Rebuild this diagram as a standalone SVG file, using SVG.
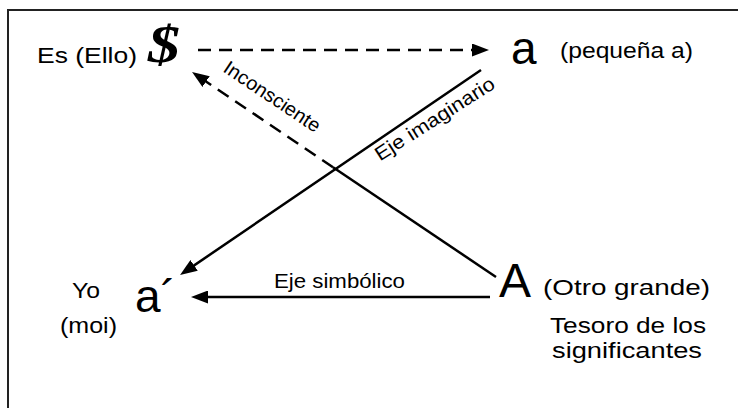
<svg xmlns="http://www.w3.org/2000/svg" width="738" height="408" viewBox="0 0 738 408">
<style>
.hand{font-family:"Liberation Sans",Arial,sans-serif;font-size:22px;fill:#000}
.lbl{font-family:"Liberation Sans",Arial,sans-serif;font-size:19.5px;fill:#000}
.big{font-family:"Liberation Sans",Arial,sans-serif;fill:#000}
.ln{stroke:#000;stroke-width:2.5;fill:none}
.dash{stroke-dasharray:13 8}
</style>
<defs>
<marker id="ah" viewBox="0 0 17 13" refX="11" refY="6.5" markerWidth="17" markerHeight="13" markerUnits="userSpaceOnUse" orient="auto">
<path d="M0,0 L17,6.5 L0,13 Z" fill="#000"/>
</marker>
</defs>
<rect x="0" y="0" width="738" height="408" fill="#fff"/>
<rect x="8" y="10" width="780" height="440" fill="none" stroke="#222" stroke-width="2"/>

<g id="connectors">
<path id="c-top" class="ln dash" d="M198,50 L483,50" marker-end="url(#ah)"/>
<path id="c-imag" class="ln" d="M481,70 L185,271.6" marker-end="url(#ah)"/>
<path id="c-simb" class="ln" d="M490,297 L197,297" marker-end="url(#ah)"/>
<path id="c-incons-solid" class="ln" d="M496,277 L333,167.2"/>
<path id="c-incons-dash" class="ln dash" d="M333,167.2 L197,75.4" marker-end="url(#ah)"/>
<text class="lbl" x="222" y="71" transform="rotate(33.7 222 71)" textLength="112" lengthAdjust="spacingAndGlyphs">Inconsciente</text>
<text class="lbl" x="380" y="161.5" transform="rotate(-32.5 380 161.5)" textLength="138" lengthAdjust="spacingAndGlyphs">Eje imaginario</text>
<text class="lbl" x="274" y="288" textLength="131" lengthAdjust="spacingAndGlyphs">Eje simbólico</text>
</g>

<g id="node-S">
<text class="hand" x="37" y="63" textLength="100" lengthAdjust="spacingAndGlyphs">Es (Ello)</text>
<text x="148" y="62" font-family="'Liberation Serif','Times New Roman',serif" font-weight="bold" font-style="italic" font-size="52" textLength="32" lengthAdjust="spacingAndGlyphs">$</text>
</g>

<g id="node-a">
<text class="big" x="511" y="64" font-size="46">a</text>
<text class="hand" x="560" y="58" textLength="133" lengthAdjust="spacingAndGlyphs">(pequeña a)</text>
</g>

<g id="node-a-prime">
<text class="hand" x="72" y="298" textLength="28" lengthAdjust="spacingAndGlyphs">Yo</text>
<text class="hand" x="60" y="333" textLength="57" lengthAdjust="spacingAndGlyphs">(moi)</text>
<text class="big" x="135" y="312" font-size="46">a´</text>
</g>

<g id="node-A">
<text class="big" x="499" y="297" font-size="48">A</text>
<text class="hand" x="543" y="295" textLength="167" lengthAdjust="spacingAndGlyphs">(Otro grande)</text>
<text class="hand" x="550" y="333" font-size="21" textLength="156" lengthAdjust="spacingAndGlyphs">Tesoro de los</text>
<text class="hand" x="552" y="358" font-size="21" textLength="150" lengthAdjust="spacingAndGlyphs">significantes</text>
</g>
</svg>
